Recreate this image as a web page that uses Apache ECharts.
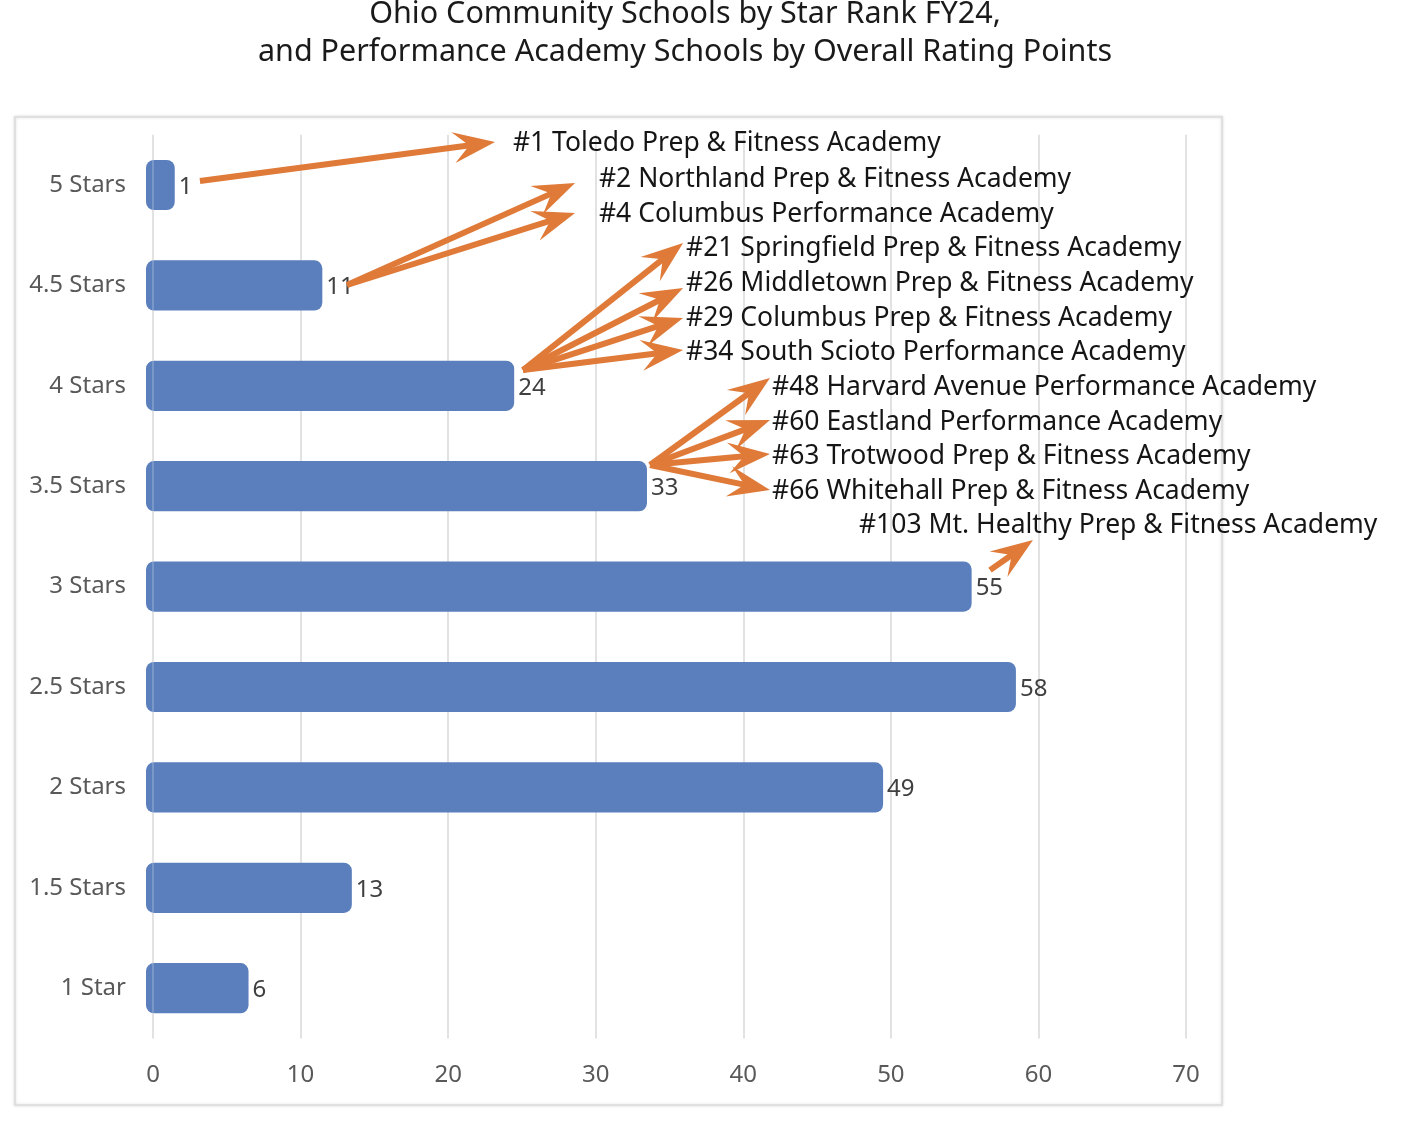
<!DOCTYPE html>
<html>
<head>
<meta charset="utf-8">
<script src="https://cdn.jsdelivr.net/npm/echarts@6/dist/echarts.min.js"></script>
<style>
  html, body { margin: 0; padding: 0; background: #fff; }
  #chart { width: 1408px; height: 1126px; }
</style>
</head>
<body>
<div id="chart"></div>
<script>
// ---- data ----
const categories = ['5 Stars', '4.5 Stars', '4 Stars', '3.5 Stars', '3 Stars', '2.5 Stars', '2 Stars', '1.5 Stars', '1 Star'];
const schoolCounts = [1, 11, 24, 33, 55, 58, 49, 13, 6];
const xTickMin = 0, xTickMax = 70, xTickStep = 10;
const titleLines = [
  'Ohio Community Schools by Star Rank FY24,',
  'and Performance Academy Schools by Overall Rating Points'
];

const schoolNames = [
  '#1 Toledo Prep & Fitness Academy',
  '#2 Northland Prep & Fitness Academy',
  '#4 Columbus Performance Academy',
  '#21 Springfield Prep & Fitness Academy',
  '#26 Middletown Prep & Fitness Academy',
  '#29 Columbus Prep & Fitness Academy',
  '#34 South Scioto Performance Academy',
  '#48 Harvard Avenue Performance Academy',
  '#60 Eastland Performance Academy',
  '#63 Trotwood Prep & Fitness Academy',
  '#66 Whitehall Prep & Fitness Academy',
  '#103 Mt. Healthy Prep & Fitness Academy'
];
// annotation anchors in data units: [x value, row position]
const nameAnchors = [
  [24.39, -0.41], [30.22, -0.06], [30.22, 0.29], [36.12, 0.63], [36.12, 0.98],
  [36.12, 1.325], [36.12, 1.663], [41.95, 2.012], [41.95, 2.361], [41.95, 2.699],
  [41.95, 3.048], [47.84, 3.387]
];
// arrows in data units: [fromX, fromRow, toX, toRow]
const arrowSegments = [
  [3.18, -0.04, 23.18, -0.428],
  [13.15, 0.996, 28.60, -0.02],
  [13.15, 0.996, 28.60, 0.279],
  [25.07, 1.843, 35.92, 0.578],
  [25.07, 1.843, 35.92, 1.026],
  [25.07, 1.843, 35.92, 1.325],
  [25.07, 1.843, 35.92, 1.644],
  [33.68, 2.789, 41.81, 1.922],
  [33.68, 2.789, 41.81, 2.341],
  [33.68, 2.789, 41.81, 2.679],
  [33.68, 2.789, 41.81, 3.038],
  [56.72, 3.836, 59.63, 3.537]
];

const FONT = 'Noto Sans';
const ARROW = '#DF7A38';
const BAR = '#5B7FBC';

const chart = echarts.init(document.getElementById('chart'));

function renderBar(params, api) {
  const v = api.value(0);
  const cat = api.value(1);
  const p0 = api.coord([0, cat]);
  const p1 = api.coord([v, cat]);
  const h = api.size([0, 1])[1] * 0.5;
  const pad = 7;
  return {
    type: 'group',
    children: [
      { type: 'rect', shape: { x: p0[0] - pad, y: p0[1] - h / 2, width: p1[0] - p0[0] + 2 * pad, height: h, r: 8 },
        style: { fill: BAR } },
      { type: 'line', shape: { x1: p0[0], y1: p0[1] - h / 2, x2: p0[0], y2: p0[1] + h / 2 },
        style: { stroke: 'rgba(255,255,255,0.25)', lineWidth: 1.5 } },
      { type: 'text', style: { x: p1[0] + pad + 4, y: p1[1] + 2, text: String(v), fontFamily: FONT, fontSize: 24,
        fill: '#404040', align: 'left', verticalAlign: 'middle' } }
    ]
  };
}

function renderArrow(params, api) {
  const p1 = api.coord([api.value(0), api.value(1)]);
  const p2 = api.coord([api.value(2), api.value(3)]);
  const dx = p2[0] - p1[0], dy = p2[1] - p1[1];
  const len = Math.hypot(dx, dy);
  const ux = dx / len, uy = dy / len, nx = -uy, ny = ux;
  const L = 42, W = 15.5, N = 26;
  const bx = p2[0] - ux * L, by = p2[1] - uy * L;
  const notch = [p2[0] - ux * N, p2[1] - uy * N];
  return {
    type: 'group',
    children: [
      { type: 'line', shape: { x1: p1[0], y1: p1[1], x2: notch[0] + ux * 3, y2: notch[1] + uy * 3 },
        style: { stroke: ARROW, lineWidth: 6 } },
      { type: 'polygon', shape: { points: [[p2[0], p2[1]], [bx + nx * W, by + ny * W], notch, [bx - nx * W, by - ny * W]] },
        style: { fill: ARROW } }
    ]
  };
}

function renderName(params, api) {
  const p = api.coord([api.value(0), api.value(1)]);
  return {
    type: 'text',
    style: {
      x: p[0], y: p[1], text: schoolNames[params.dataIndex],
      fontFamily: FONT, fontSize: 26.5, fill: '#151515',
      align: 'left', verticalAlign: 'middle'
    }
  };
}

chart.setOption({
  backgroundColor: '#fff',
  animation: false,
  graphic: [
    { type: 'rect', z: -10, shape: { x: 15, y: 117, width: 1207, height: 988 },
      style: { fill: '#fff', stroke: '#e0e0e0', lineWidth: 2, shadowBlur: 3, shadowColor: 'rgba(0,0,0,0.12)' } },
    { type: 'text', x: 685, y: 14,
      style: { text: titleLines[0], fontFamily: FONT, fontSize: 30.5, fill: '#1a1a1a', align: 'center', verticalAlign: 'middle' } },
    { type: 'text', x: 685, y: 52,
      style: { text: titleLines[1], fontFamily: FONT, fontSize: 30.5, fill: '#1a1a1a', align: 'center', verticalAlign: 'middle' } }
  ],
  grid: { left: 153, right: 222, top: 134.8, bottom: 87.6, containLabel: false },
  xAxis: {
    type: 'value', min: xTickMin, max: xTickMax, interval: xTickStep,
    axisLine: { show: false }, axisTick: { show: false },
    splitLine: { lineStyle: { color: '#d9d9d9', width: 1.5 } },
    axisLabel: { fontFamily: FONT, fontSize: 24, color: '#595959', margin: 25 }
  },
  yAxis: [
    {
      type: 'category', data: categories, inverse: true,
      axisLine: { show: false }, axisTick: { show: false },
      axisLabel: { fontFamily: FONT, fontSize: 24, color: '#595959', margin: 27 }
    },
    { type: 'value', show: false, min: -0.5, max: 8.5, inverse: true, splitLine: { show: false } }
  ],
  series: [
    {
      type: 'custom', yAxisIndex: 0, clip: false, z: 3,
      data: schoolCounts.map((v, i) => [v, i]), encode: { x: 0, y: 1 },
      renderItem: renderBar
    },
    {
      type: 'custom', yAxisIndex: 1, clip: false, z: 5,
      data: arrowSegments, encode: { x: [0, 2], y: [1, 3] },
      renderItem: renderArrow
    },
    {
      type: 'custom', yAxisIndex: 1, clip: false, z: 6,
      data: nameAnchors, encode: { x: 0, y: 1 },
      renderItem: renderName
    }
  ]
});
</script>
</body>
</html>
